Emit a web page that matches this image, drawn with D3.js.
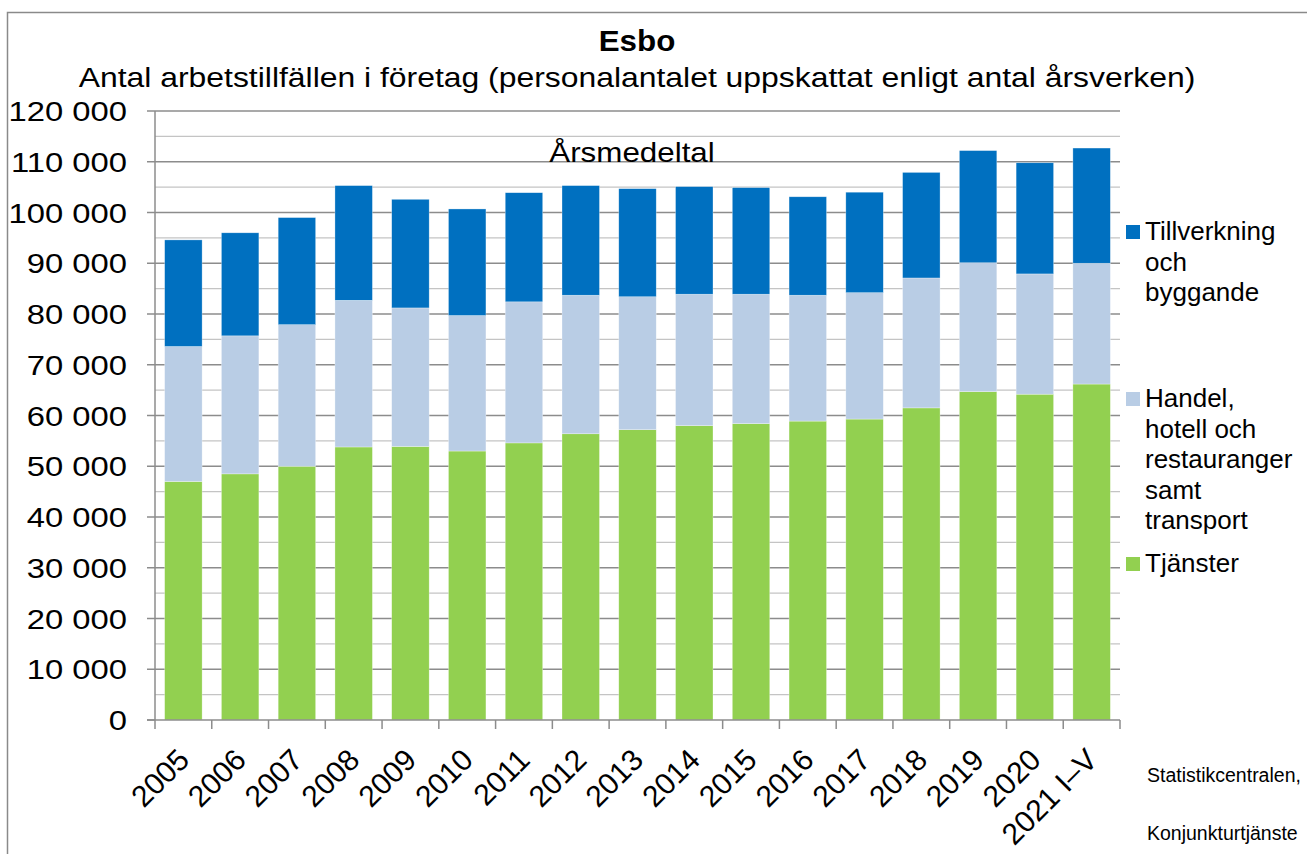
<!DOCTYPE html>
<html lang="sv">
<head>
  <meta charset="UTF-8">
  <title>Esbo – arbetstillfällen</title>
  <script src="https://d3js.org/d3.v7.min.js"></script>
  <style>
    body { margin: 0; background: #fff; }
    svg text { font-family: "Liberation Sans", Arial, sans-serif; fill: #000; }
  </style>
</head>
<body>
  <div id="chart"></div>
  <script>
    // data (årsmedeltal, antal arbetstillfällen)
    const years = ["2005", "2006", "2007", "2008", "2009", "2010", "2011", "2012", "2013",
                   "2014", "2015", "2016", "2017", "2018", "2019", "2020", "2021 I–V"];
    const tjanster = [47000, 48500, 50000, 53800, 53900, 53000, 54600, 56400, 57200,
                      58000, 58400, 58900, 59300, 61500, 64700, 64200, 66200];
    const handel = [26600, 27200, 27900, 28900, 27300, 26700, 27800, 27300, 26200,
                    25900, 25500, 24800, 24900, 25600, 25400, 23700, 23800];
    const tillverkning = [21000, 20300, 21100, 22600, 21400, 21000, 21500, 21600, 21300,
                          21200, 21000, 19400, 19800, 20800, 22100, 21900, 22700];
    const seriesNames = ["Tjänster", "Handel, hotell och restauranger samt transport", "Tillverkning och byggande"];
    const yTicks = [0, 10000, 20000, 30000, 40000, 50000, 60000, 70000, 80000, 90000, 100000, 110000, 120000];

    const W = 1307, H = 854;
    const plot = { left: 155, right: 1120, top: 111, bottom: 720 };
    const colors = { "Tjänster": "#92d050", "Handel, hotell och restauranger samt transport": "#b9cde5", "Tillverkning och byggande": "#0070c0" };

    const svg = d3.select("#chart").append("svg")
      .attr("width", W).attr("height", H);

    // yttre ram
    svg.append("rect")
      .attr("x", 7.5).attr("y", 12.5)
      .attr("width", 1400).attr("height", 900)
      .attr("fill", "none").attr("stroke", "#8a8a8a").attr("stroke-width", 1.5);

    const x = d3.scaleBand().domain(years).range([plot.left, plot.right])
      .paddingInner(0.34).paddingOuter(0.17);
    const y = d3.scaleLinear().domain([0, 120000]).range([plot.bottom, plot.top]);

    // stödlinjer: mindre varje 5 000, större varje 10 000
    const minor = d3.range(5000, 120000, 10000);
    svg.append("g").selectAll("line").data(minor).enter().append("line")
      .attr("x1", plot.left).attr("x2", plot.right)
      .attr("y1", d => y(d)).attr("y2", d => y(d))
      .attr("stroke", "#c4c4c4").attr("stroke-width", 1.3);
    svg.append("g").selectAll("line").data(yTicks.slice(1)).enter().append("line")
      .attr("x1", plot.left).attr("x2", plot.right)
      .attr("y1", d => y(d)).attr("y2", d => y(d))
      .attr("stroke", "#8c8c8c").attr("stroke-width", 1.3);

    // staplade kolumner
    const table = years.map((yr, i) => ({
      year: yr,
      "Tjänster": tjanster[i],
      "Handel, hotell och restauranger samt transport": handel[i],
      "Tillverkning och byggande": tillverkning[i]
    }));
    const stacked = d3.stack().keys(seriesNames)(table);

    svg.append("g").selectAll("g").data(stacked).enter().append("g")
      .attr("fill", d => colors[d.key])
      .selectAll("rect").data(d => d).enter().append("rect")
      .attr("x", d => x(d.data.year))
      .attr("width", x.bandwidth())
      .attr("y", d => y(d[1]))
      .attr("height", d => y(d[0]) - y(d[1]))
      .attr("stroke", "#ffffff").attr("stroke-opacity", 0.5).attr("stroke-width", 0.6);

    // axlar
    const axisColor = "#8c8c8c";
    svg.append("line")
      .attr("x1", plot.left).attr("x2", plot.left)
      .attr("y1", plot.top).attr("y2", plot.bottom)
      .attr("stroke", axisColor).attr("stroke-width", 1.5);
    svg.append("line")
      .attr("x1", plot.left - 8).attr("x2", plot.right)
      .attr("y1", plot.bottom).attr("y2", plot.bottom)
      .attr("stroke", axisColor).attr("stroke-width", 1.5);

    svg.append("g").selectAll("line").data(yTicks).enter().append("line")
      .attr("x1", plot.left - 8).attr("x2", plot.left)
      .attr("y1", d => y(d)).attr("y2", d => y(d))
      .attr("stroke", axisColor).attr("stroke-width", 1.5);

    // texten i originalet är något bredare, så den sträcks horisontellt
    const fmt = d => d3.format(",")(d).replace(/,/g, " ");
    svg.append("g").selectAll("text").data(yTicks).enter().append("text")
      .attr("transform", d => `translate(127,${y(d)}) scale(1.17,1)`)
      .attr("dy", "0.36em")
      .attr("text-anchor", "end")
      .style("font-size", "28px")
      .text(fmt);

    // kategoriticks på gränserna
    const bounds = years.map(yr => x(yr) - x.step() * x.paddingInner() / 2)
      .concat([plot.right]);
    svg.append("g").selectAll("line").data(bounds).enter().append("line")
      .attr("x1", d => d).attr("x2", d => d)
      .attr("y1", plot.bottom).attr("y2", plot.bottom + 9)
      .attr("stroke", axisColor).attr("stroke-width", 1.5);

    svg.append("g").selectAll("text").data(years).enter().append("text")
      .attr("transform", d => `translate(${x(d) + x.bandwidth() / 2},754) rotate(-45)`)
      .attr("dy", "0.36em")
      .attr("text-anchor", "end")
      .style("font-size", "30px")
      .text(d => d);

    // rubriker
    svg.append("text")
      .attr("transform", "translate(637,51) scale(1.08,1)")
      .attr("text-anchor", "middle")
      .style("font-size", "29px").style("font-weight", "bold")
      .text("Esbo");
    svg.append("text")
      .attr("transform", "translate(637,87) scale(1.16,1)")
      .attr("text-anchor", "middle")
      .style("font-size", "27.5px")
      .text("Antal arbetstillfällen i företag (personalantalet uppskattat enligt antal årsverken)");
    svg.append("text")
      .attr("transform", "translate(632,162) scale(1.12,1)")
      .attr("text-anchor", "middle")
      .style("font-size", "28px")
      .text("Årsmedeltal");

    // förklaring
    const legendItems = [
      { key: "Tillverkning och byggande", lines: ["Tillverkning", "och", "byggande"], y0: 240 },
      { key: "Handel, hotell och restauranger samt transport", lines: ["Handel,", "hotell och", "restauranger", "samt", "transport"], y0: 407 },
      { key: "Tjänster", lines: ["Tjänster"], y0: 572 }
    ];
    const lg = svg.append("g").selectAll("g").data(legendItems).enter().append("g");
    lg.append("rect")
      .attr("x", 1126).attr("y", d => d.y0 - 15)
      .attr("width", 14).attr("height", 14)
      .attr("fill", d => colors[d.key]);
    lg.append("text")
      .attr("x", 1145).attr("y", d => d.y0)
      .style("font-size", "26px")
      .selectAll("tspan").data(d => d.lines).enter().append("tspan")
      .attr("x", 1145)
      .attr("dy", (d, i) => i === 0 ? 0 : 30.5)
      .text(d => d);

    // källa (avklippt i högerkanten som i originalet)
    svg.append("text").attr("x", 1147).attr("y", 782)
      .style("font-size", "19.5px").text("Statistikcentralen,");
    svg.append("text").attr("x", 1147).attr("y", 840)
      .style("font-size", "19.5px").text("Konjunkturtjänste");
  </script>
</body>
</html>
